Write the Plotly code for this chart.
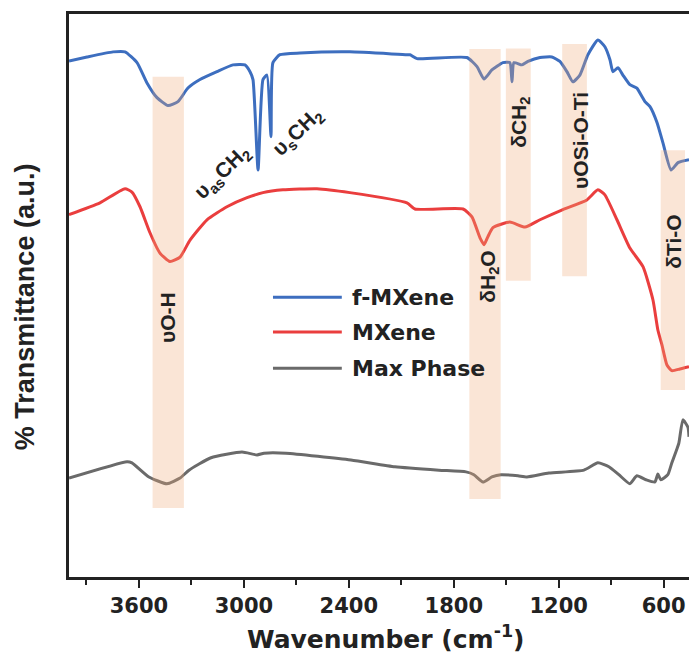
import plotly.graph_objects as go

# ---------------- data ----------------
fmx_wn = [4000, 3897, 3748, 3680, 3611, 3554, 3497, 3434, 3377, 3320, 3251, 3154, 3062, 2994,
          2965, 2948, 2919, 2891, 2868, 2845, 2834, 2794, 2679, 2394, 2068, 2050, 2010, 1725,
          1667, 1627, 1582, 1519, 1479, 1467, 1456, 1410, 1376, 1307, 1239, 1193, 1153, 1119,
          1079, 1033, 976, 936, 907, 890, 861, 833, 793, 753, 724, 707, 678, 638, 604, 558, 518, 455]
fmx_t = [91.3, 92.0, 92.9, 92.9, 91.0, 87.4, 84.8, 83.4, 84.1, 86.5, 88.0, 89.4, 90.6, 90.6,
         89.4, 88.0, 72.0, 88.0, 88.8, 77.9, 91.0, 92.4, 92.7, 92.9, 92.4, 92.4, 91.7, 91.9,
         90.3, 88.1, 89.7, 91.0, 91.0, 87.6, 91.0, 90.6, 91.2, 91.9, 92.0, 91.2, 89.4, 87.6,
         88.8, 92.4, 95.0, 93.8, 91.5, 89.4, 90.1, 88.8, 87.1, 86.5, 85.0, 84.1, 83.2, 80.4, 76.8, 72.0, 73.3, 73.8]

mx_wn = [4000, 3823, 3680, 3640, 3594, 3537, 3480, 3423, 3365, 3308, 3211, 3097, 2982, 2891,
         2777, 2582, 2394, 2068, 2022, 1747, 1696, 1650, 1627, 1605, 1576, 1479, 1393, 1307,
         1176, 1039, 976, 936, 867, 793, 718, 661, 633, 610, 581, 553, 507, 455]
mx_t = [64.1, 66.2, 68.7, 68.1, 65.5, 60.9, 57.3, 55.8, 56.6, 59.6, 63.2, 65.5, 67.1, 68.0,
        68.5, 68.7, 68.0, 66.2, 65.1, 65.1, 63.7, 60.0, 58.8, 60.2, 61.8, 62.8, 61.9, 63.2,
        65.0, 66.7, 68.5, 67.6, 63.2, 58.2, 54.9, 49.0, 43.7, 41.1, 37.5, 36.5, 36.8, 37.2]

max_wn = [4000, 3668, 3640, 3543, 3440, 3365, 3314, 3188, 3011, 2925, 2885, 2759, 2388, 2136,
          1885, 1730, 1685, 1633, 1582, 1530, 1433, 1382, 1256, 1056, 976, 913, 856, 793, 753,
          701, 650, 633, 616, 576, 553, 513, 490, 461, 455]
max_t = [17.5, 20.4, 20.2, 17.7, 16.5, 17.5, 18.9, 21.1, 22.1, 21.6, 21.9, 21.9, 20.7, 19.5,
         18.9, 18.6, 18.1, 16.8, 17.7, 18.1, 17.9, 17.7, 18.4, 18.9, 20.2, 19.5, 18.1, 16.5, 17.9,
         17.2, 16.8, 18.2, 17.2, 18.1, 20.2, 23.7, 27.8, 26.5, 24.8]

series_names = ["f-MXene", "MXene", "Max Phase"]
series_colors = ["#3D6EBF", "#EA3E3E", "#6A6A6A"]

# highlighted bands: (wn high, wn low, T low, T high)
band_wn_hi = [3522, 1711, 1502, 1180, 617]
band_wn_lo = [3343, 1532, 1360, 1039, 478]
band_t_lo = [12.2, 13.8, 52.4, 53.2, 33.1]
band_t_hi = [88.5, 93.4, 93.5, 94.3, 75.5]

# band labels
label_text = ["υO-H", "υ<sub>as</sub>CH<sub>2</sub>", "υ<sub>s</sub>CH<sub>2</sub>",
              "δH<sub>2</sub>O", "δCH<sub>2</sub>", "υOSi-O-Ti", "δTi-O"]
label_wn = [3434, 3125, 2691, 1599, 1422, 1079, 541]
label_t = [46.0, 71.5, 78.8, 53.1, 80.5, 77.3, 59.3]
label_angle = [-90, -44, -44, -90, -90, -90, -90]

tick_vals = [3600, 3000, 2400, 1800, 1200, 600]
minor_vals = [3900, 3300, 2700, 2100, 1500, 900]

# ---------------- figure ----------------
fig = go.Figure()
for wn, t, name, col in [(max_wn, max_t, series_names[2], series_colors[2]),
                         (mx_wn, mx_t, series_names[1], series_colors[1]),
                         (fmx_wn, fmx_t, series_names[0], series_colors[0])]:
    fig.add_trace(go.Scatter(x=wn, y=t, mode="lines", name=name, showlegend=False,
                             hoverinfo="skip",
                             line=dict(color=col, width=3, shape="spline", smoothing=0.5)))

for x0, x1, y0, y1 in zip(band_wn_hi, band_wn_lo, band_t_lo, band_t_hi):
    fig.add_shape(type="rect", xref="x", yref="y", x0=x0, x1=x1, y0=y0, y1=y1,
                  fillcolor="rgba(238,170,120,0.30)", line_width=0, layer="above")

for txt, x, y, ang in zip(label_text, label_wn, label_t, label_angle):
    fig.add_annotation(x=x, y=y, xref="x", yref="y", text=txt, showarrow=False,
                       textangle=ang, xanchor="center", yanchor="middle",
                       font=dict(family="Liberation Sans", size=21, color="#222222", weight="bold"))

# manual legend (long line samples)
leg_y = [0.497, 0.435, 0.371]
for name, col, yy in zip(series_names, series_colors, leg_y):
    fig.add_shape(type="line", xref="paper", yref="paper", x0=0.329, x1=0.440, y0=yy, y1=yy,
                  line=dict(color=col, width=3))
    fig.add_annotation(x=0.454, y=yy, xref="paper", yref="paper", text=name, showarrow=False,
                       xanchor="left", yanchor="middle",
                       font=dict(family="DejaVu Sans", size=22, color="#222222", weight="bold"))

# axis titles
fig.add_annotation(x=0.511, y=-0.107, xref="paper", yref="paper",
                   text="Wavenumber (cm<sup>-1</sup>)", showarrow=False,
                   xanchor="center", yanchor="middle",
                   font=dict(family="DejaVu Sans", size=25, color="#222222", weight="bold"))
fig.add_annotation(x=-0.071, y=0.481, xref="paper", yref="paper",
                   text="% Transmittance (a.u.)", showarrow=False, textangle=-90,
                   xanchor="center", yanchor="middle",
                   font=dict(family="Liberation Sans", size=27, color="#222222", weight="bold"))

fig.update_layout(
    width=689, height=657,
    margin=dict(l=69, r=0, t=14, b=80),
    paper_bgcolor="white", plot_bgcolor="white",
    showlegend=False,
    xaxis=dict(range=[4000, 455], tickvals=tick_vals, ticks="outside", ticklen=8, tickwidth=2,
               tickcolor="#222222", showline=True, linewidth=2.5, linecolor="#222222",
               mirror=True, showgrid=False, zeroline=False,
               tickfont=dict(family="DejaVu Sans", size=21, color="#222222", weight="bold"),
               minor=dict(tickvals=minor_vals, ticks="outside",
                          ticklen=5, tickwidth=2, tickcolor="#222222")),
    yaxis=dict(range=[0, 99.6], showticklabels=False, ticks="", showline=True, linewidth=2.5,
               linecolor="#222222", mirror=False, showgrid=False, zeroline=False),
)

fig.write_html("out.html", config={"displayModeBar": False},
               post_script="document.body.style.margin='0px';document.body.style.overflow='hidden';")
